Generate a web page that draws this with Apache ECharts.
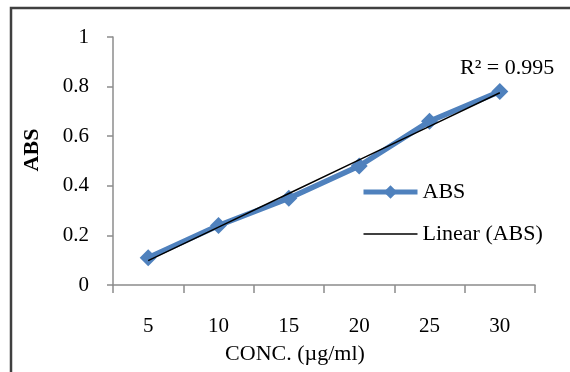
<!DOCTYPE html>
<html>
<head>
<meta charset="utf-8">
<script src="https://cdn.jsdelivr.net/npm/echarts@6/dist/echarts.min.js"></script>
<style>
    html, body { margin: 0; padding: 0; background: #fff; }
    #main { width: 570px; height: 372px; }
</style>
</head>
<body>
<div id="main"></div>
<script>
/* data */
var categories = ['5', '10', '15', '20', '25', '30'];
var absValues = [0.11, 0.24, 0.35, 0.48, 0.66, 0.78];
var rSquaredText = 'R² = 0.995';

/* least squares fit on category index, like Excel's linear trendline */
function linearFit(ys) {
    var n = ys.length, sx = 0, sy = 0, sxy = 0, sxx = 0;
    for (var i = 0; i < n; i++) {
        var x = i + 1;
        sx += x; sy += ys[i]; sxy += x * ys[i]; sxx += x * x;
    }
    var slope = (n * sxy - sx * sy) / (n * sxx - sx * sx);
    var icpt = (sy - slope * sx) / n;
    var out = [];
    for (var j = 0; j < n; j++) out.push(+(icpt + slope * (j + 1)).toFixed(4));
    return out;
}
var trendValues = linearFit(absValues);

var serif = 'Liberation Serif';
var blue = '#4f81bd';
var chart = echarts.init(document.getElementById('main'));

chart.setOption({
    animation: false,
    backgroundColor: '#fff',
    grid: { left: 113, right: 35, top: 37, bottom: 87, containLabel: false },
    legend: {
        orient: 'vertical',
        left: 356,
        top: 176,
        itemWidth: 54,
        itemHeight: 17,
        itemGap: 20,
        textStyle: { fontFamily: serif, fontSize: 22, color: '#000' },
        data: [
            { name: 'ABS', lineStyle: { width: 5, color: blue } },
            { name: 'Linear (ABS)', itemStyle: { color: 'transparent', borderWidth: 0, opacity: 0 }, lineStyle: { width: 1.5, color: '#000' } }
        ]
    },
    xAxis: {
        type: 'category',
        data: categories,
        boundaryGap: true,
        name: 'CONC. (µg/ml)',
        nameLocation: 'middle',
        nameGap: 58,
        nameTextStyle: { fontFamily: serif, fontSize: 22, color: '#000', padding: [0, 58, 0, 0] },
        axisLine: { lineStyle: { color: '#8c8c8c', width: 1.5 } },
        axisTick: { show: true, length: 8, lineStyle: { color: '#8c8c8c', width: 1.5 } },
        axisLabel: { margin: 31, fontFamily: serif, fontSize: 21, color: '#000' },
        splitLine: { show: false }
    },
    yAxis: {
        type: 'value',
        min: 0,
        max: 1,
        interval: 0.2,
        name: 'ABS',
        nameLocation: 'middle',
        nameGap: 70,
        nameTextStyle: { fontFamily: serif, fontSize: 22, fontWeight: 'bold', color: '#000', padding: [0, 0, 0, 22] },
        axisLine: { show: true, lineStyle: { color: '#8c8c8c', width: 1.5 } },
        axisTick: { show: true, length: 6, lineStyle: { color: '#8c8c8c', width: 1.5 } },
        axisLabel: { margin: 24, fontFamily: serif, fontSize: 21, color: '#000' },
        splitLine: { show: false }
    },
    series: [
        {
            name: 'ABS',
            type: 'line',
            data: absValues,
            symbol: 'diamond',
            symbolSize: 17,
            color: blue,
            lineStyle: { width: 5.5, color: blue },
            itemStyle: { color: blue },
            z: 2
        },
        {
            name: 'Linear (ABS)',
            type: 'line',
            data: trendValues,
            symbol: 'none',
            color: '#000',
            lineStyle: { width: 1.5, color: '#000' },
            z: 3
        }
    ],
    graphic: [
        {
            type: 'rect',
            shape: { x: 11, y: 8, width: 620, height: 420 },
            style: { fill: 'none', stroke: '#404040', lineWidth: 2.5 },
            silent: true
        },
        {
            type: 'text',
            left: 460,
            top: 57,
            style: { text: rSquaredText, font: '22px "Liberation Serif"', fill: '#000' }
        }
    ]
});
</script>
</body>
</html>
